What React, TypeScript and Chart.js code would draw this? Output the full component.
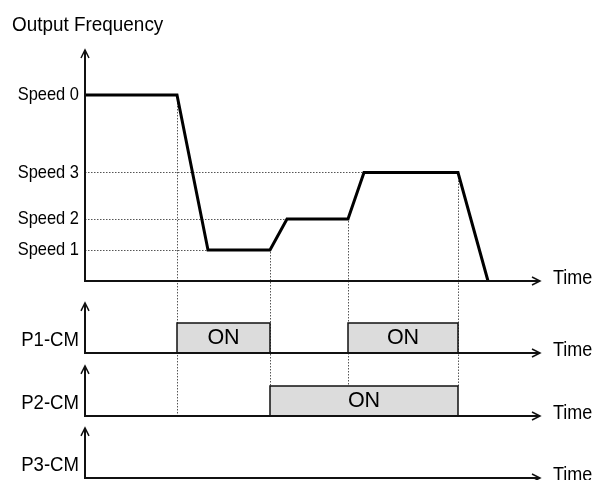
import React, { useEffect, useRef } from 'react';
import { Chart, registerables } from 'chart.js';

Chart.register(...registerables);

const FONT = "'Liberation Sans', Arial, sans-serif";

// ---- data ----
const titleText = 'Output Frequency';
const timeLabel = 'Time';
const onLabel = 'ON';
const times = [0, 9.2, 12.3, 18.5, 20.2, 26.3, 27.9, 37.3, 40.3];
const freq = [6, 6, 1, 1, 2, 2, 3.5, 3.5, 0];
const speedTicks = [6, 3.5, 2, 1];
const speedLabels = ['Speed 0', 'Speed 3', 'Speed 2', 'Speed 1'];
const p1Times = [0, 9.2, 18.5, 26.3, 37.3, 45.5];
const p1States = [0, 1, 0, 1, 0, 0];
const p2Times = [0, 18.5, 37.3, 45.5];
const p2States = [0, 1, 0, 0];
const p3Times = [0, 45.5];
const p3States = [0, 0];
const inputLabels = ['P1-CM', 'P2-CM', 'P3-CM'];
const inputLabelLevel = 0.43;
const switchTimes = [9.2, 18.5, 26.3, 37.3];
const timeMax = 45.5;
const freqMax = 7.45;
const inputArrow = 1.67;

const stateAt = (ts: number[], ss: number[], t: number) => {
  let s = 0;
  for (let i = 0; i < ts.length; i++) if (ts[i] <= t) s = ss[i];
  return s;
};
const freqAt = (t: number) => {
  for (let i = 0; i < times.length - 1; i++) {
    if (t >= times[i] && t <= times[i + 1]) {
      const r = (t - times[i]) / (times[i + 1] - times[i] || 1);
      return freq[i] + r * (freq[i + 1] - freq[i]);
    }
  }
  return 0;
};

const drawText = (
  ctx: CanvasRenderingContext2D,
  text: string,
  x: number,
  y: number,
  size: number,
  sx: number,
  align: CanvasTextAlign
) => {
  ctx.save();
  ctx.translate(x, y);
  ctx.scale(sx, 1);
  ctx.font = `${size}px ${FONT}`;
  ctx.fillStyle = '#000';
  ctx.textAlign = align;
  ctx.textBaseline = 'middle';
  ctx.fillText(text, 0, 0);
  ctx.restore();
};

const diagramPlugin = {
  id: 'diagram',
  beforeDatasetsDraw(chart: any) {
    const { ctx, scales } = chart;
    const x = scales.x, yF = scales.yF, y2 = scales.y2;
    ctx.save();
    ctx.strokeStyle = '#555';
    ctx.lineWidth = 1;
    ctx.setLineDash([1.5, 1.5]);
    speedTicks.forEach((level) => {
      if (level === freq[0]) return;
      const idx = freq.findIndex((v) => v === level);
      const py = Math.round(yF.getPixelForValue(level)) + 0.5;
      ctx.beginPath();
      ctx.moveTo(x.getPixelForValue(0), py);
      ctx.lineTo(x.getPixelForValue(times[idx]), py);
      ctx.stroke();
    });
    switchTimes.forEach((t) => {
      const on = stateAt(p2Times, p2States, t - 0.01) || stateAt(p2Times, p2States, t + 0.01);
      const px = Math.round(x.getPixelForValue(t)) + 0.5;
      ctx.beginPath();
      ctx.moveTo(px, yF.getPixelForValue(freqAt(t)) + 2);
      ctx.lineTo(px, y2.getPixelForValue(on ? 1 : 0));
      ctx.stroke();
    });
    ctx.restore();
  },
  afterDatasetsDraw(chart: any) {
    const { ctx, scales } = chart;
    const x = scales.x;
    const panels = [
      { s: scales.yF, tip: freqMax },
      { s: scales.y1, tip: inputArrow },
      { s: scales.y2, tip: inputArrow },
      { s: scales.y3, tip: inputArrow },
    ];
    const x0 = x.getPixelForValue(0);
    const x1 = x.getPixelForValue(timeMax);
    ctx.save();
    ctx.strokeStyle = '#111';
    ctx.setLineDash([]);
    panels.forEach(({ s, tip }) => {
      const by = s.getPixelForValue(0);
      const ty = s.getPixelForValue(tip);
      ctx.lineWidth = 2;
      ctx.beginPath();
      ctx.moveTo(x0, by);
      ctx.lineTo(x0, ty + 1);
      ctx.moveTo(x0 - 1, by);
      ctx.lineTo(x1 - 1, by);
      ctx.stroke();
      ctx.lineWidth = 1.5;
      ctx.beginPath();
      ctx.moveTo(x0 - 4, ty + 8);
      ctx.lineTo(x0, ty);
      ctx.lineTo(x0 + 4, ty + 8);
      ctx.moveTo(x1 - 8, by - 4);
      ctx.lineTo(x1, by);
      ctx.lineTo(x1 - 8, by + 4);
      ctx.stroke();
      drawText(ctx, timeLabel, x1 + 13, by - 3, 20, 0.9, 'left');
      // tick labels of this panel's axis
      const size = s.id === 'yF' ? 18.5 : 20;
      const sx = s.id === 'yF' ? 0.89 : 0.93;
      s.ticks.forEach((t: any) => {
        drawText(ctx, String(t.label), s.right - 6, s.getPixelForValue(t.value), size, sx, 'right');
      });
    });
    const inputs = [
      { s: scales.y1, ts: p1Times, ss: p1States },
      { s: scales.y2, ts: p2Times, ss: p2States },
    ];
    inputs.forEach(({ s, ts, ss }) => {
      for (let i = 0; i < ts.length - 1; i++) {
        if (ss[i] === 1) {
          const cx = (x.getPixelForValue(ts[i]) + x.getPixelForValue(ts[i + 1])) / 2;
          drawText(ctx, onLabel, cx, s.getPixelForValue(0.5), 21.5, 1, 'center');
        }
      }
    });
    drawText(ctx, titleText, 12, 25, 21, 0.9, 'left');
    ctx.restore();
  },
};

const fixAxis = (s: any) => {
  s.width = 73;
  s.paddingTop = 0;
  s.paddingBottom = 0;
};

const inputAxis = (id: number, max: number, stackWeight: number, weight: number) => ({
  type: 'linear',
  position: 'left',
  stack: 'panels',
  stackWeight,
  weight,
  min: 0,
  max,
  grid: { display: false },
  border: { display: false },
  afterFit: fixAxis,
  afterBuildTicks: (s: any) => {
    s.ticks = [{ value: inputLabelLevel }];
  },
  ticks: {
    display: false,
    autoSkip: false,
    callback: () => inputLabels[id],
  },
});

const stepSet = (ts: number[], ss: number[], axis: string) => ({
  type: 'line',
  data: ts.map((t, i) => ({ x: t, y: ss[i] })),
  yAxisID: axis,
  stepped: true,
  borderColor: '#111',
  borderWidth: 1.5,
  backgroundColor: '#dcdcdc',
  fill: 'origin',
  pointRadius: 0,
  clip: false,
});

export default function App() {
  const ref = useRef<HTMLCanvasElement | null>(null);
  useEffect(() => {
    if (!ref.current) return;
    const chart = new Chart(ref.current, {
      type: 'line',
      data: {
        datasets: [
          stepSet(p1Times, p1States, 'y1'),
          stepSet(p2Times, p2States, 'y2'),
          stepSet(p3Times, p3States, 'y3'),
          {
            type: 'line',
            data: times.map((t, i) => ({ x: t, y: freq[i] })),
            yAxisID: 'yF',
            borderColor: '#000',
            borderWidth: 3,
            borderJoinStyle: 'miter',
            pointRadius: 0,
            tension: 0,
            fill: false,
            clip: false,
          },
        ] as any,
      },
      options: {
        responsive: false,
        animation: false,
        events: [],
        layout: { padding: { left: 12, right: 53, top: 50, bottom: 2 } },
        plugins: {
          legend: { display: false },
          tooltip: { enabled: false },
          title: { display: false },
        },
        scales: {
          x: { type: 'linear', min: 0, max: timeMax, display: false },
          yF: {
            type: 'linear',
            position: 'left',
            stack: 'panels',
            stackWeight: 231,
            weight: 4,
            min: 0,
            max: freqMax,
            grid: { display: false },
            border: { display: false },
            afterFit: fixAxis,
            afterBuildTicks: (s: any) => {
              s.ticks = speedTicks.map((v) => ({ value: v }));
            },
            ticks: {
              display: false,
              autoSkip: false,
              callback: (_v: any, i: number) => speedLabels[i],
            },
          },
          y1: inputAxis(0, 2.4, 72, 3),
          y2: inputAxis(1, 2.1, 63, 2),
          y3: inputAxis(2, 2.067, 62, 1),
        } as any,
      },
      plugins: [diagramPlugin],
    } as any);
    return () => chart.destroy();
  }, []);
  return (
    <div style={{ position: 'fixed', left: 0, top: 0, width: 593, height: 480, background: '#fff' }}>
      <canvas ref={ref} width={593} height={480} style={{ width: 593, height: 480, display: 'block' }} />
    </div>
  );
}
